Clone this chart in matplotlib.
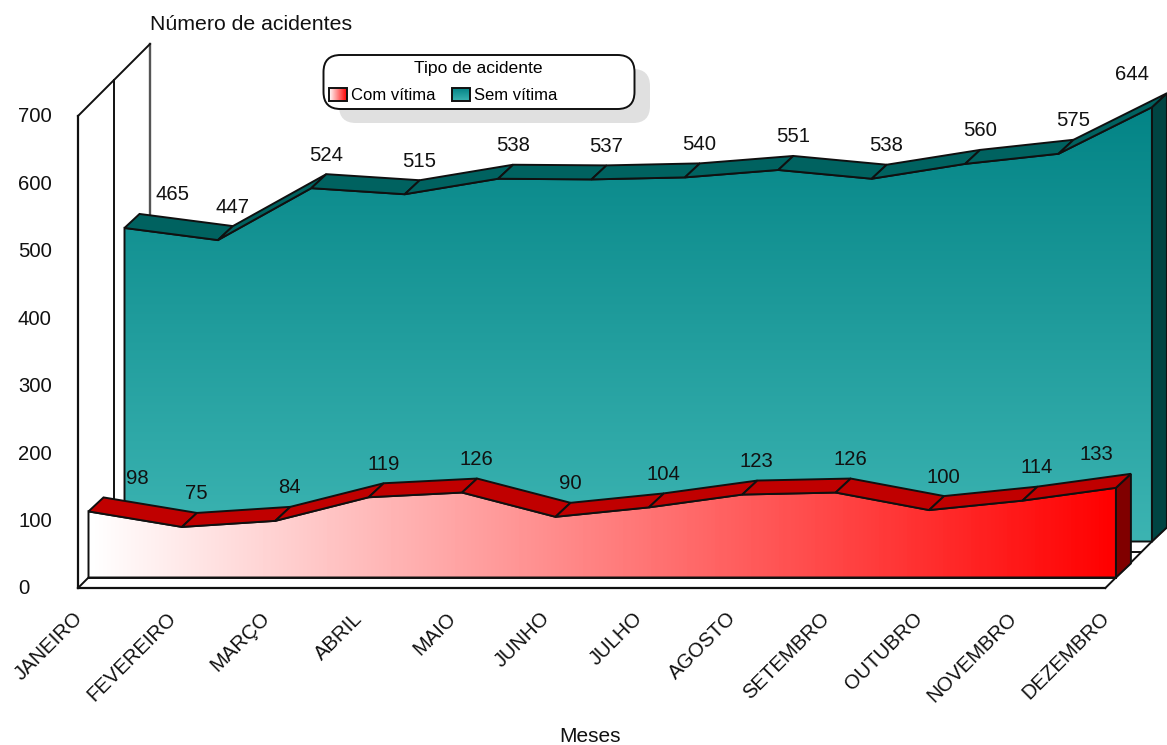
import numpy as np
import matplotlib
matplotlib.use('Agg')
import matplotlib.pyplot as plt
from matplotlib.colors import LinearSegmentedColormap
from matplotlib.patches import FancyBboxPatch, Polygon, Rectangle
from matplotlib.transforms import IdentityTransform, offset_copy

plt.rcParams['font.family'] = ['Liberation Sans', 'DejaVu Sans']

# Dados
meses = ['JANEIRO', 'FEVEREIRO', 'MARÇO', 'ABRIL', 'MAIO', 'JUNHO', 'JULHO',
         'AGOSTO', 'SETEMBRO', 'OUTUBRO', 'NOVEMBRO', 'DEZEMBRO']
com_vitima = [98, 75, 84, 119, 126, 90, 104, 123, 126, 100, 114, 133]
sem_vitima = [465, 447, 524, 515, 538, 537, 540, 551, 538, 560, 575, 644]
y_ticks = [0, 100, 200, 300, 400, 500, 600, 700]

W, H = 1167, 745
DX = 93.4        # px por mes
DY = 0.6743      # px por acidente
X0, Y0 = 88.5, 577.5
DEPTH = 15       # profundidade de cada serie
GAP = 36         # da frente de uma serie para a frente da outra
BLACK = '#101010'
TXT = '#111111'

fig = plt.figure(figsize=(W / 100, H / 100), dpi=100, facecolor='white')
ax = fig.add_axes([0, 0, 1, 1])
ax.axis('off')
ax.set_xlim(-X0 / DX, (W - X0) / DX)
ax.set_ylim((Y0 - H) / DY, Y0 / DY)


def shifted(dx, dy=None):
    return offset_copy(ax.transData, fig=fig, x=dx, y=dx if dy is None else dy, units='dots')


def px_poly(xy, fc, z):
    # poligono ja em pixels da tela
    p = Polygon(xy, closed=True, fc=fc, ec=BLACK, lw=1.4, zorder=z, joinstyle='miter')
    p.set_transform(IdentityTransform())
    ax.add_patch(p)


def serie(values, offset, cmap, grad, top_color, side_color, z):
    n = len(values) - 1
    front = shifted(offset)
    back = shifted(offset + DEPTH, offset + DEPTH - 1)

    # lado direito
    px_poly(np.vstack([front.transform([(n, 0), (n, values[n])]),
                       back.transform([(n, values[n]), (n, 0)])]), side_color, z)

    # frente com gradiente
    xy = [(0, 0)] + [(i, v) for i, v in enumerate(values)] + [(n, 0)]
    outline = Polygon(xy, closed=True, fc='none', ec=BLACK, lw=1.4, transform=front,
                      zorder=z + 2, joinstyle='miter')
    ax.add_patch(outline)
    im = ax.imshow(grad, extent=(0, n, 0, max(values)), origin='lower', aspect='auto',
                   cmap=cmap, vmin=0, vmax=1, transform=front, zorder=z + 1,
                   interpolation='bilinear')
    im.set_clip_path(outline)

    # topo, um trecho por mes
    for i in range(n):
        px_poly(np.vstack([front.transform([(i, values[i]), (i + 1, values[i + 1])]),
                           back.transform([(i + 1, values[i + 1]), (i, values[i])])]),
                top_color, z + 3)


def rotulos(values, offset):
    for i, v in enumerate(values):
        dx = offset + 14.5
        if i == 0:
            dx += 34
        if i == len(values) - 1:
            dx -= 34
        ax.text(i, v, str(v), transform=shifted(dx, offset + 33), ha='center', va='center',
                fontsize=14.6, color=TXT, zorder=20)


n = len(meses) - 1

# Paredes e chao
wall = shifted(-10.5)
ax.plot([0, n], [0, 0], transform=wall, color=BLACK, lw=1.6, zorder=1)
ax.plot([0, 0], [0, 700], transform=wall, color=BLACK, lw=1.6, zorder=1)
for off, col, lw in [(25.5, BLACK, 1.4), (61.5, '#555555', 1.7)]:
    ax.plot([0, 0], [0, 700], transform=shifted(off), color=col, lw=lw, zorder=1)
# topo da parede e diagonais do chao
for xv, yv in [(0, 700), (0, 0), (n, 0)]:
    a = wall.transform((xv, yv))
    b = shifted(61.5).transform((xv, yv))
    ax.plot([a[0], b[0]], [a[1], b[1]], color=BLACK, lw=1.4, zorder=1,
            transform=IdentityTransform())
ax.plot([0, n], [0, 0], transform=shifted(0), color=BLACK, lw=1.4, zorder=1)
ax.plot([0, n], [0, 0], transform=shifted(25.5), color=BLACK, lw=1.4, zorder=1)

# Series
teal_map = LinearSegmentedColormap.from_list('teal', ['#3cb4b2', '#038486'])
red_map = LinearSegmentedColormap.from_list('red', ['#ffffff', '#ff0000'])
serie(sem_vitima, GAP, teal_map, np.linspace(0, 1, 256).reshape(-1, 1),
      '#006260', '#004442', 3)
serie(com_vitima, 0, red_map, np.linspace(0, 1, 256).reshape(1, -1),
      '#c00000', '#800000', 8)
rotulos(sem_vitima, GAP)
rotulos(com_vitima, 0)

# Eixos
for t in y_ticks:
    ax.text(0, t, str(t), transform=shifted(-88.5 + 18, -11.5), ha='left', va='center',
            fontsize=14.6, color=TXT)
for i, m in enumerate(meses):
    ax.text(i, 0, m, transform=shifted(-9, -38), rotation=45, rotation_mode='anchor',
            ha='right', va='center', fontsize=14.6, color=TXT)

# Camada em pixels para textos soltos e legenda
ov = fig.add_axes([0, 0, 1, 1], facecolor='none')
ov.axis('off')

ov.text(150, 24, 'Número de acidentes', ha='left', va='center', fontsize=15.3, color=TXT)
ov.text(590, 737, 'Meses', ha='center', va='center', fontsize=15, color=TXT)

box = dict(boxstyle='round,pad=0,rounding_size=17')
ov.add_patch(FancyBboxPatch((339, 69), 311, 54, fc='#e0e0e0', ec='none', zorder=1, **box))
ov.add_patch(FancyBboxPatch((323.5, 55), 311, 54, fc='white', ec=BLACK, lw=1.4, zorder=2, **box))
ov.text(478, 68, 'Tipo de acidente', ha='center', va='center', fontsize=12.6, color='black', zorder=3)
ov.text(351, 95, 'Com vítima', ha='left', va='center', fontsize=12, color='black', zorder=3)
ov.text(474, 95, 'Sem vítima', ha='left', va='center', fontsize=12, color='black', zorder=3)
ov.imshow(np.linspace(0, 1, 64).reshape(1, -1), extent=(329, 347, 101, 88), cmap=red_map,
          vmin=0, vmax=1, aspect='auto', zorder=3, interpolation='bilinear')
ov.imshow(np.linspace(1, 0, 64).reshape(-1, 1), extent=(452, 470, 101, 88), cmap=teal_map,
          vmin=0, vmax=1, aspect='auto', zorder=3, interpolation='bilinear')
ov.add_patch(Rectangle((329, 88), 18, 13, fc='none', ec=BLACK, lw=1.4, zorder=4))
ov.add_patch(Rectangle((452, 88), 18, 13, fc='none', ec=BLACK, lw=1.4, zorder=4))
ov.set_xlim(0, W)
ov.set_ylim(H, 0)

fig.savefig('out.png', dpi=100)
